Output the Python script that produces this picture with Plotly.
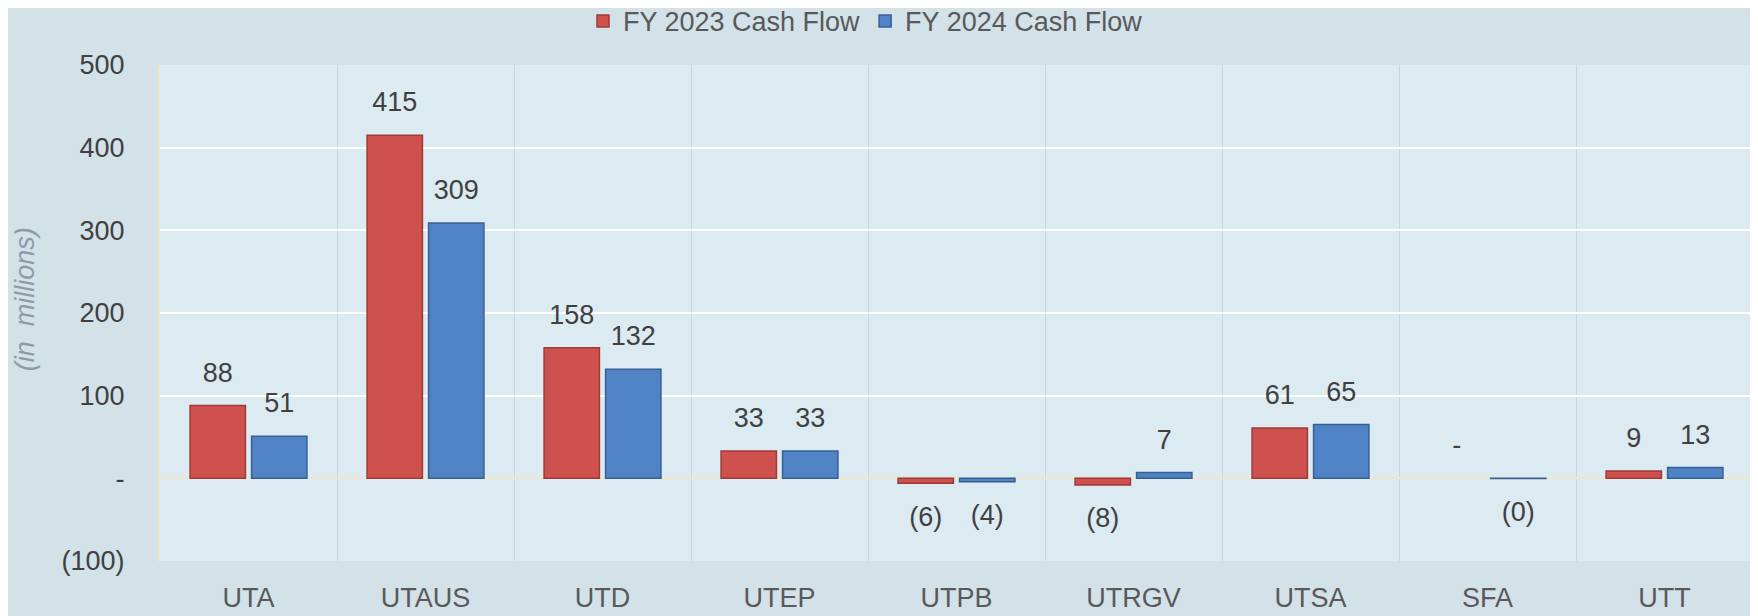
import plotly.graph_objects as go

categories = ["UTA", "UTAUS", "UTD", "UTEP", "UTPB", "UTRGV", "UTSA", "SFA", "UTT"]
fy2023 = [88, 415, 158, 33, -6, -8, 61, 0, 9]
fy2024 = [51, 309, 132, 33, -4, 7, 65, -0.3, 13]
y_tick_vals = [-100, 0, 100, 200, 300, 400, 500]
y_tick_text = ["(100)", "-", "100", "200", "300", "400", "500"]


def fmt(v):
    r = round(v)
    if v == 0:
        return "-"
    if v < 0:
        return "(%d)" % abs(r)
    return "%d" % r


FONT = "Liberation Sans, Arial, sans-serif"
series = [
    ("FY 2023 Cash Flow", fy2023, "#CF514E", "#9E3A37"),
    ("FY 2024 Cash Flow", fy2024, "#4F83C5", "#375F94"),
]

fig = go.Figure()
for name, vals, col, edge in series:
    fig.add_trace(go.Bar(
        x=categories, y=vals, name=name,
        marker=dict(color=col,
                    line=dict(color=edge, width=[0 if v == 0 else 1.5 for v in vals])),
        hoverinfo="x+y",
    ))
for name, vals, col, edge in series:
    fig.add_trace(go.Scatter(
        x=categories, y=vals, mode="markers+text", showlegend=False,
        marker=dict(size=[34 if v < 0 else 26 for v in vals], color="rgba(0,0,0,0)",
                    opacity=0, line=dict(width=0, color="rgba(0,0,0,0)")),
        text=[fmt(v) for v in vals],
        textposition=["bottom center" if v < 0 else "top center" for v in vals],
        textfont=dict(family=FONT, size=27, color="#404040"),
        cliponaxis=False, hoverinfo="skip",
    ))

fig.update_layout(
    width=1750, height=608,
    margin=dict(l=152, r=5, t=57, b=55, autoexpand=False),
    paper_bgcolor="#D3E1E9",
    plot_bgcolor="#DCEAF1",
    barmode="group", bargap=0.305, bargroupgap=0.1,
    scattermode="group", scattergap=0.305,
    font=dict(family=FONT, size=27, color="#404040"),
    showlegend=True,
    legend=dict(orientation="h", x=0.49, xanchor="center", xref="container",
                y=1.088, yanchor="middle", yref="paper",
                font=dict(family=FONT, size=27, color="#595959"),
                bgcolor="rgba(0,0,0,0)", itemwidth=30, traceorder="normal"),
    annotations=[dict(
        text="<i>(in  millions)</i>", textangle=-90, showarrow=False,
        xref="paper", yref="paper", x=-0.0847, y=0.528,
        xanchor="center", yanchor="middle",
        font=dict(family=FONT, size=27, color="#8C9BA5"),
    )],
)
fig.update_xaxes(
    type="category", tickson="boundaries", showgrid=True, gridcolor="#C8D6DE", gridwidth=1,
    ticks="", ticklabelstandoff=18, tickfont=dict(family=FONT, size=27, color="#595959"),
    showline=False, zeroline=False, automargin=False,
)
fig.update_yaxes(
    range=[-100, 500], tickvals=y_tick_vals, ticktext=y_tick_text,
    showgrid=True, gridcolor="#FFFFFF", gridwidth=2,
    zeroline=True, zerolinecolor="#EFE6CC", zerolinewidth=2,
    showline=True, linecolor="#EFE6CC", linewidth=2,
    ticks="", ticklabelstandoff=28, automargin=False,
    tickfont=dict(family=FONT, size=27, color="#404040"),
)

fig.write_html("out.html")
